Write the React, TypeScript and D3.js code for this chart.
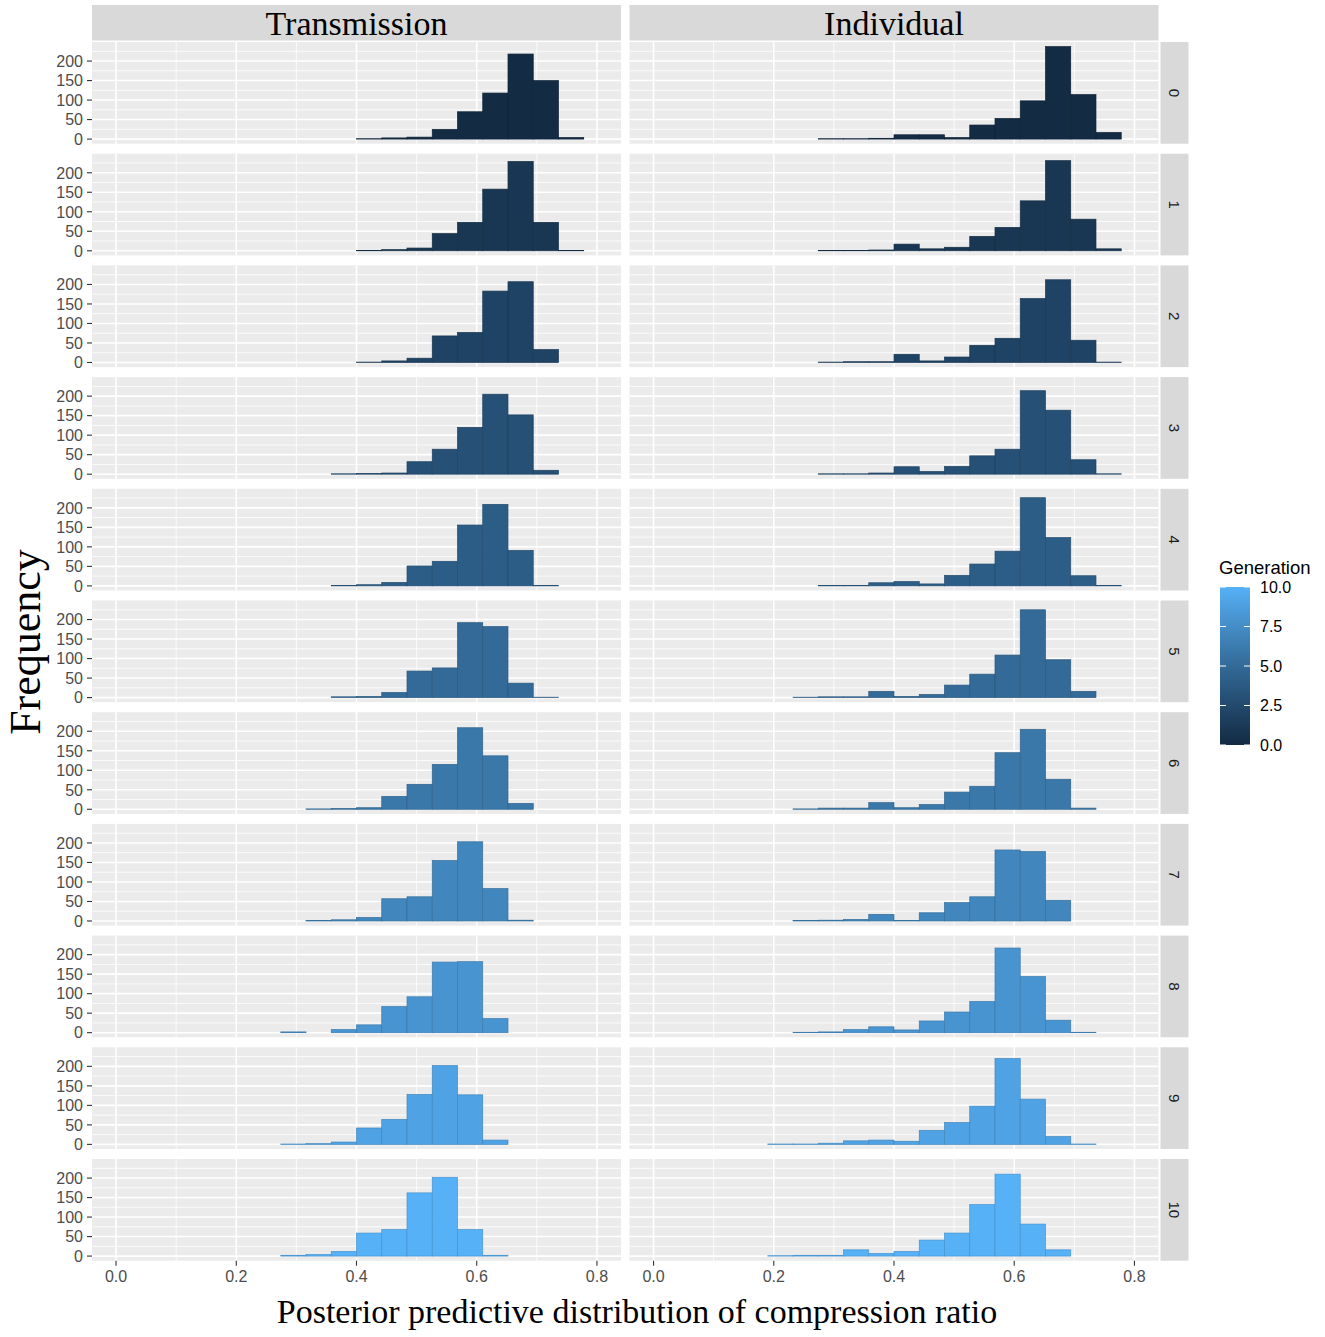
import React, { useEffect, useRef } from 'react';
import * as d3 from 'd3';

// histogram bins (left edges), width 0.042
const binStart = 0.19;
const binWidth = 0.042;

const conditions = ['Transmission', 'Individual'];
const generations = [0, 1, 2, 3, 4, 5, 6, 7, 8, 9, 10];

// counts per bin, one row per generation
const transmission = [
  [0, 0, 0, 0, 0, 1, 3, 5, 25, 70, 118, 218, 150, 4],
  [0, 0, 0, 0, 0, 1, 3, 7, 44, 73, 158, 229, 73, 1],
  [0, 0, 0, 0, 0, 1, 4, 11, 68, 77, 183, 207, 33, 0],
  [0, 0, 0, 0, 1, 2, 3, 32, 64, 120, 205, 152, 10, 0],
  [0, 0, 0, 0, 1, 3, 9, 51, 63, 156, 209, 91, 1, 0],
  [0, 0, 0, 0, 2, 3, 13, 68, 76, 192, 182, 37, 1, 0],
  [0, 0, 0, 1, 2, 4, 33, 64, 115, 209, 137, 15, 0, 0],
  [0, 0, 0, 1, 3, 9, 57, 62, 155, 203, 83, 2, 0, 0],
  [0, 0, 2, 0, 8, 20, 67, 92, 181, 182, 36, 0, 0, 0],
  [0, 0, 1, 2, 6, 42, 64, 128, 202, 127, 11, 0, 0, 0],
  [0, 0, 2, 4, 12, 59, 68, 162, 202, 68, 2, 0, 0, 0],
];

const individual = [
  [0, 0, 1, 1, 2, 11, 11, 4, 36, 53, 98, 237, 114, 17],
  [0, 0, 1, 1, 2, 17, 5, 9, 37, 60, 128, 231, 81, 5],
  [0, 0, 1, 2, 2, 21, 4, 14, 44, 62, 164, 212, 57, 1],
  [0, 0, 1, 1, 3, 19, 7, 20, 47, 64, 214, 164, 37, 1],
  [0, 0, 1, 1, 8, 11, 5, 27, 56, 89, 226, 124, 26, 1],
  [0, 1, 2, 2, 16, 3, 8, 32, 60, 109, 225, 97, 16, 0],
  [0, 1, 3, 3, 17, 4, 12, 44, 59, 145, 205, 77, 3, 0],
  [0, 1, 2, 4, 17, 1, 21, 47, 62, 182, 178, 53, 0, 0],
  [0, 1, 2, 8, 15, 7, 30, 53, 80, 217, 144, 32, 1, 0],
  [1, 1, 3, 9, 11, 8, 36, 56, 98, 220, 116, 20, 1, 0],
  [1, 2, 2, 16, 7, 12, 41, 59, 132, 210, 82, 16, 0, 0],
];

const xTicks = [0, 0.2, 0.4, 0.6, 0.8];
const xMinor = [0.1, 0.3, 0.5, 0.7];
const yTicks = [0, 50, 100, 150, 200];
const yMinor = [25, 75, 125, 175, 225];
const legendTicks = [0, 2.5, 5, 7.5, 10];

const W = 1325;
const H = 1337;
const colX = [92, 629.5];
const panelW = 529;
const panelTop = 42;
const panelH = 101.7;
const rowPitch = 111.7;
const sans = '"Liberation Sans", Arial, sans-serif';
const serif = '"Liberation Serif", "Times New Roman", serif';

const App: React.FC = () => {
  const svgRef = useRef<SVGSVGElement>(null);

  useEffect(() => {
    if (!svgRef.current) return;
    const svg = d3.select(svgRef.current);
    svg.selectAll('*').remove();

    svg.append('rect').attr('width', W).attr('height', H).attr('fill', '#fff');

    const color = d3.scaleLinear<string>()
      .domain([0, 10])
      .range(['#132B43', '#56B1F7'])
      .interpolate(d3.interpolateLab);

    const yMax = d3.max([...transmission, ...individual].flat()) as number;
    const x = d3.scaleLinear().domain([-0.04, 0.84]).range([0, panelW]);
    const y = d3.scaleLinear().domain([-0.05 * yMax, 1.05 * yMax]).range([panelH, 0]);

    const dataByCond = [transmission, individual];

    // top strips
    conditions.forEach((c, ci) => {
      svg.append('rect')
        .attr('x', colX[ci]).attr('y', 5)
        .attr('width', panelW).attr('height', 35.5)
        .attr('fill', '#D9D9D9');
      svg.append('text')
        .attr('x', colX[ci] + panelW / 2).attr('y', 23)
        .attr('dy', '0.35em')
        .attr('text-anchor', 'middle')
        .style('font-family', serif).style('font-size', '34px')
        .attr('fill', '#000')
        .text(c);
    });

    generations.forEach((gen, gi) => {
      const top = panelTop + gi * rowPitch;

      conditions.forEach((_, ci) => {
        const g = svg.append('g').attr('transform', `translate(${colX[ci]},${top})`);
        g.append('rect').attr('width', panelW).attr('height', panelH).attr('fill', '#EBEBEB');

        // minor grid
        yMinor.forEach((v) => {
          g.append('line').attr('x1', 0).attr('x2', panelW)
            .attr('y1', y(v)).attr('y2', y(v))
            .attr('stroke', '#fff').attr('stroke-width', 0.8);
        });
        xMinor.forEach((v) => {
          g.append('line').attr('y1', 0).attr('y2', panelH)
            .attr('x1', x(v)).attr('x2', x(v))
            .attr('stroke', '#fff').attr('stroke-width', 0.8);
        });
        // major grid
        yTicks.forEach((v) => {
          g.append('line').attr('x1', 0).attr('x2', panelW)
            .attr('y1', y(v)).attr('y2', y(v))
            .attr('stroke', '#fff').attr('stroke-width', 1.6);
        });
        xTicks.forEach((v) => {
          g.append('line').attr('y1', 0).attr('y2', panelH)
            .attr('x1', x(v)).attr('x2', x(v))
            .attr('stroke', '#fff').attr('stroke-width', 1.6);
        });

        const fill = color(gen);
        const counts = dataByCond[ci][gi];
        counts.forEach((n, bi) => {
          if (n <= 0) return;
          const x0 = binStart + bi * binWidth;
          g.append('rect')
            .attr('x', x(x0))
            .attr('width', x(x0 + binWidth) - x(x0))
            .attr('y', y(n))
            .attr('height', y(0) - y(n))
            .attr('fill', fill)
            .attr('stroke', d3.color(fill)!.darker(0.5).formatHex())
            .attr('stroke-width', 0.7);
        });

        // y axis on left column
        if (ci === 0) {
          yTicks.forEach((v) => {
            g.append('line').attr('x1', -5).attr('x2', 0)
              .attr('y1', y(v)).attr('y2', y(v))
              .attr('stroke', '#333').attr('stroke-width', 1.1);
            g.append('text')
              .attr('x', -9).attr('y', y(v)).attr('dy', '0.36em')
              .attr('text-anchor', 'end')
              .style('font-family', sans).style('font-size', '16px')
              .attr('fill', '#4D4D4D')
              .text(String(v));
          });
        }

        // x axis on bottom row
        if (gi === generations.length - 1) {
          xTicks.forEach((v) => {
            g.append('line').attr('y1', panelH).attr('y2', panelH + 5)
              .attr('x1', x(v)).attr('x2', x(v))
              .attr('stroke', '#333').attr('stroke-width', 1.1);
            g.append('text')
              .attr('x', x(v)).attr('y', panelH + 21)
              .attr('text-anchor', 'middle')
              .style('font-family', sans).style('font-size', '16px')
              .attr('fill', '#4D4D4D')
              .text(d3.format('.1f')(v));
          });
        }
      });

      // right strip
      const sx = colX[1] + panelW + 2;
      svg.append('rect')
        .attr('x', sx).attr('y', top)
        .attr('width', 28).attr('height', panelH)
        .attr('fill', '#D9D9D9');
      svg.append('text')
        .attr('transform', `translate(${sx + 14},${top + panelH / 2}) rotate(90)`)
        .attr('text-anchor', 'middle').attr('dy', '0.35em')
        .style('font-family', sans).style('font-size', '15px')
        .attr('fill', '#1A1A1A')
        .text(String(gen));
    });

    // axis titles
    svg.append('text')
      .attr('transform', `translate(40,642) rotate(-90)`)
      .attr('text-anchor', 'middle')
      .style('font-family', serif).style('font-size', '44px')
      .attr('fill', '#000')
      .text('Frequency');

    svg.append('text')
      .attr('x', 637).attr('y', 1323)
      .attr('text-anchor', 'middle')
      .style('font-family', serif).style('font-size', '34px')
      .attr('fill', '#000')
      .text('Posterior predictive distribution of compression ratio');

    // legend
    const lx = 1220;
    const ly0 = 587;
    const ly1 = 745;
    const lw = 30;
    const defs = svg.append('defs');
    const grad = defs.append('linearGradient')
      .attr('id', 'genGrad')
      .attr('x1', 0).attr('y1', 1).attr('x2', 0).attr('y2', 0);
    d3.range(0, 11).forEach((v) => {
      grad.append('stop').attr('offset', `${v * 10}%`).attr('stop-color', color(v));
    });
    svg.append('text')
      .attr('x', lx - 1).attr('y', 574)
      .style('font-family', sans).style('font-size', '18.5px')
      .attr('fill', '#000')
      .text('Generation');
    svg.append('rect')
      .attr('x', lx).attr('y', ly0)
      .attr('width', lw).attr('height', ly1 - ly0)
      .attr('fill', 'url(#genGrad)');
    const ly = d3.scaleLinear().domain([0, 10]).range([ly1, ly0]);
    legendTicks.forEach((v) => {
      svg.append('line').attr('x1', lx).attr('x2', lx + 6)
        .attr('y1', ly(v)).attr('y2', ly(v))
        .attr('stroke', '#fff').attr('stroke-width', 1);
      svg.append('line').attr('x1', lx + lw - 6).attr('x2', lx + lw)
        .attr('y1', ly(v)).attr('y2', ly(v))
        .attr('stroke', '#fff').attr('stroke-width', 1);
      svg.append('text')
        .attr('x', lx + lw + 10).attr('y', ly(v)).attr('dy', '0.36em')
        .style('font-family', sans).style('font-size', '16px')
        .attr('fill', '#000')
        .text(d3.format('.1f')(v));
    });
  }, []);

  return (
    <svg
      ref={svgRef}
      width={W}
      height={H}
      style={{ position: 'absolute', left: 0, top: 0, display: 'block' }}
    />
  );
};

export default App;
